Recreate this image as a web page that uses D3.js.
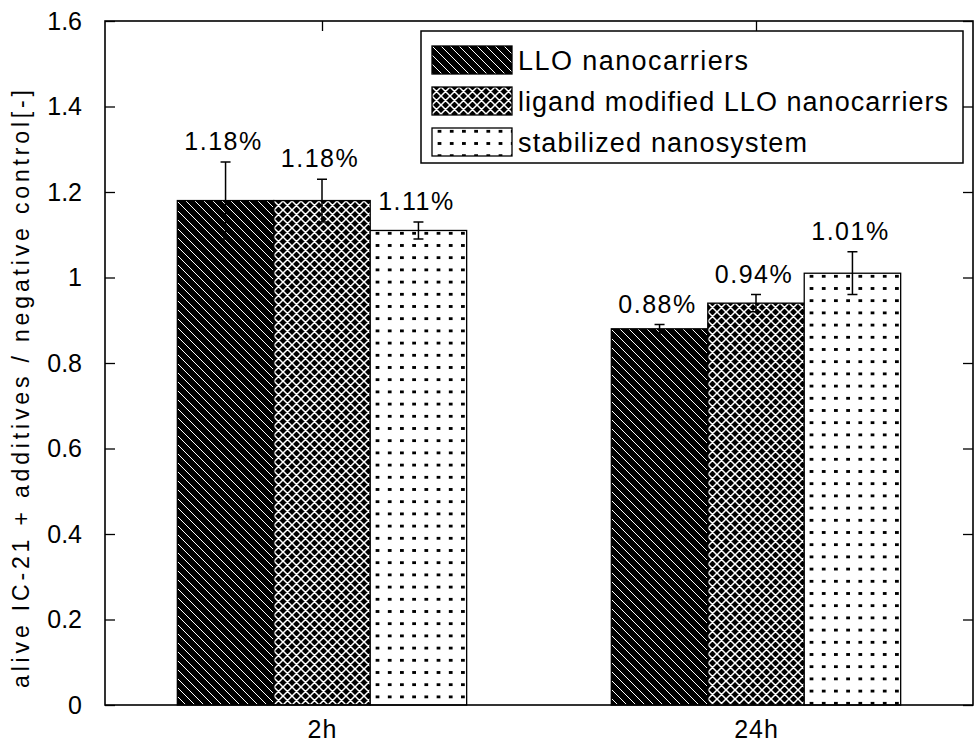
<!DOCTYPE html>
<html>
<head>
<meta charset="utf-8">
<script src="https://cdn.jsdelivr.net/npm/d3@7"></script>
<style>
  html, body { margin: 0; padding: 0; background: #fff; }
  svg text { font-family: "Liberation Sans", Arial, Helvetica, sans-serif; fill: #000; }
</style>
</head>
<body>
<svg id="chart" width="975" height="742"></svg>
<script>
// Cell viability relative to negative control, per formulation and time point
const categories = ["2h", "24h"];
const seriesNames = ["LLO nanocarriers", "ligand modified LLO nanocarriers", "stabilized nanosystem"];
const lloValues = [1.18, 0.88];
const ligandValues = [1.18, 0.94];
const stabilizedValues = [1.11, 1.01];
const lloErrors = [0.09, 0.01];
const ligandErrors = [0.05, 0.02];
const stabilizedErrors = [0.02, 0.05];
const yTicks = [0, 0.2, 0.4, 0.6, 0.8, 1, 1.2, 1.4, 1.6];
const yTickLabels = ["0", "0.2", "0.4", "0.6", "0.8", "1", "1.2", "1.4", "1.6"];
const yLabel = "alive IC-21 + additives / negative control[-]";

const seriesValues = [lloValues, ligandValues, stabilizedValues];
const seriesErrors = [lloErrors, ligandErrors, stabilizedErrors];
const patternKinds = ["diag", "cross", "dots"];

const svg = d3.select("#chart");
const plot = { left: 105, right: 973, top: 21, bottom: 705 };

const x = d3.scaleLinear().domain([0.5, categories.length + 0.5]).range([plot.left, plot.right]);
const y = d3.scaleLinear().domain([0, 1.6]).range([plot.bottom, plot.top]);
const groupHalf = 1 / 3;
const xInner = d3.scaleBand()
  .domain(d3.range(seriesNames.length))
  .range([x(1 - groupHalf) - x(1), x(1 + groupHalf) - x(1)]);

const defs = svg.append("defs");

// Fill patterns: diagonal hatch, cross-hatch, dotted
function addPattern(id, kind, ox, oy) {
  const size = kind === "dots" ? 12.2 : 9;
  const p = defs.append("pattern").attr("id", id).attr("patternUnits", "userSpaceOnUse")
    .attr("width", size).attr("height", size).attr("x", ox).attr("y", oy);
  if (kind === "diag") {
    p.append("rect").attr("width", size).attr("height", size).attr("fill", "#000");
    p.append("path").attr("d", "M0,0L9,9M-1,8L1,10M8,-1L10,1")
      .attr("stroke", "#fff").attr("stroke-width", 1).attr("shape-rendering", "crispEdges");
  } else if (kind === "cross") {
    p.append("rect").attr("width", size).attr("height", size).attr("fill", "#000");
    p.append("path").attr("d", "M0,0L9,9M-1,8L1,10M8,-1L10,1M9,0L0,9M-1,1L1,-1M8,10L10,8")
      .attr("stroke", "#fff").attr("stroke-width", 1.5);
  } else {
    p.append("rect").attr("width", size).attr("height", size).attr("fill", "#fff");
    p.append("rect").attr("x", 6).attr("y", 2).attr("width", 3).attr("height", 3)
      .attr("fill", "#000").attr("shape-rendering", "crispEdges");
  }
}

// Axes with inward ticks on all four sides
const tickFmt = (d, i) => yTickLabels[i];
svg.append("g").attr("transform", `translate(${plot.left},0)`)
  .call(d3.axisLeft(y).tickValues(yTicks).tickFormat(tickFmt).tickSize(-10).tickPadding(23))
  .call(g => g.select(".domain").remove())
  .call(g => g.selectAll("line").attr("stroke", "#000").attr("stroke-width", 1.3))
  .call(g => g.selectAll("text").attr("font-size", 25).attr("font-family", null));
svg.append("g").attr("transform", `translate(${plot.right},0)`)
  .call(d3.axisRight(y).tickValues(yTicks).tickFormat("").tickSize(-10))
  .call(g => g.select(".domain").remove())
  .call(g => g.selectAll("line").attr("stroke", "#000").attr("stroke-width", 1.3));
svg.append("g").attr("transform", `translate(0,${plot.bottom})`)
  .call(d3.axisBottom(x).tickValues(d3.range(1, categories.length + 1))
    .tickFormat((d, i) => categories[i]).tickSize(-10).tickPadding(15))
  .call(g => g.select(".domain").remove())
  .call(g => g.selectAll("line").attr("stroke", "#000").attr("stroke-width", 1.3))
  .call(g => g.selectAll("text").attr("font-size", 25).attr("font-family", null).attr("letter-spacing", 1));
svg.append("g").attr("transform", `translate(0,${plot.top})`)
  .call(d3.axisTop(x).tickValues(d3.range(1, categories.length + 1)).tickFormat("").tickSize(-10))
  .call(g => g.select(".domain").remove())
  .call(g => g.selectAll("line").attr("stroke", "#000").attr("stroke-width", 1.3));

// Bars
const barData = [];
seriesValues.forEach((vals, s) => {
  vals.forEach((v, c) => {
    barData.push({ s, c, v, e: seriesErrors[s][c] });
  });
});

barData.forEach(d => {
  const bx = x(d.c + 1) + xInner(d.s);
  const by = y(d.v);
  d.bx = bx; d.by = by; d.cx = bx + xInner.bandwidth() / 2;
  const id = `fill-${d.s}-${d.c}`;
  addPattern(id, patternKinds[d.s], Math.round(bx), Math.round(by));
  d.fill = `url(#${id})`;
});

svg.append("g").selectAll("rect").data(barData).join("rect")
  .attr("x", d => d.bx).attr("y", d => d.by)
  .attr("width", xInner.bandwidth()).attr("height", d => y(0) - y(d.v))
  .attr("fill", d => d.fill).attr("stroke", "#000").attr("stroke-width", 1.3);

// Error bars
const capHalf = 5;
const eb = svg.append("g").attr("stroke", "#000").attr("stroke-width", 1.5).attr("fill", "none");
eb.selectAll("path").data(barData).join("path")
  .attr("d", d => {
    const t = y(d.v + d.e), b = y(d.v - d.e);
    return `M${d.cx},${t}V${b}M${d.cx - capHalf},${t}H${d.cx + capHalf}M${d.cx - capHalf},${b}H${d.cx + capHalf}`;
  });

// Value labels above the error bars
const pct = d3.format(".2f");
svg.append("g").selectAll("text").data(barData).join("text")
  .attr("x", d => d.cx - 2).attr("y", d => y(d.v + d.e) - 12)
  .attr("text-anchor", "middle").attr("font-size", 25).attr("letter-spacing", 1.5)
  .text(d => pct(d.v) + "%");

// Plot frame
svg.append("rect")
  .attr("x", plot.left).attr("y", plot.top)
  .attr("width", plot.right - plot.left).attr("height", plot.bottom - plot.top)
  .attr("fill", "none").attr("stroke", "#000").attr("stroke-width", 1.6);

// Y-axis title
svg.append("text")
  .attr("transform", "translate(29,389) rotate(-90)")
  .attr("text-anchor", "middle").attr("font-size", 23)
  .attr("textLength", 598).attr("lengthAdjust", "spacing")
  .text(yLabel);

// Legend
const legend = svg.append("g");
legend.append("rect").attr("x", 421).attr("y", 31).attr("width", 542).attr("height", 132)
  .attr("fill", "#fff").attr("stroke", "#000").attr("stroke-width", 1.5);
const rowY = [60, 101, 142];
const legendWidths = [230, 430, 289];
seriesNames.forEach((name, s) => {
  const id = `legend-fill-${s}`;
  addPattern(id, patternKinds[s], 432, rowY[s] - 14);
  legend.append("rect").attr("x", 432).attr("y", rowY[s] - 14).attr("width", 80).attr("height", 28)
    .attr("fill", `url(#${id})`).attr("stroke", "#000").attr("stroke-width", 1.3);
  legend.append("text").attr("x", 518).attr("y", rowY[s] + 10)
    .attr("font-size", 27).attr("textLength", legendWidths[s]).attr("lengthAdjust", "spacing")
    .text(name);
});
</script>
</body>
</html>
